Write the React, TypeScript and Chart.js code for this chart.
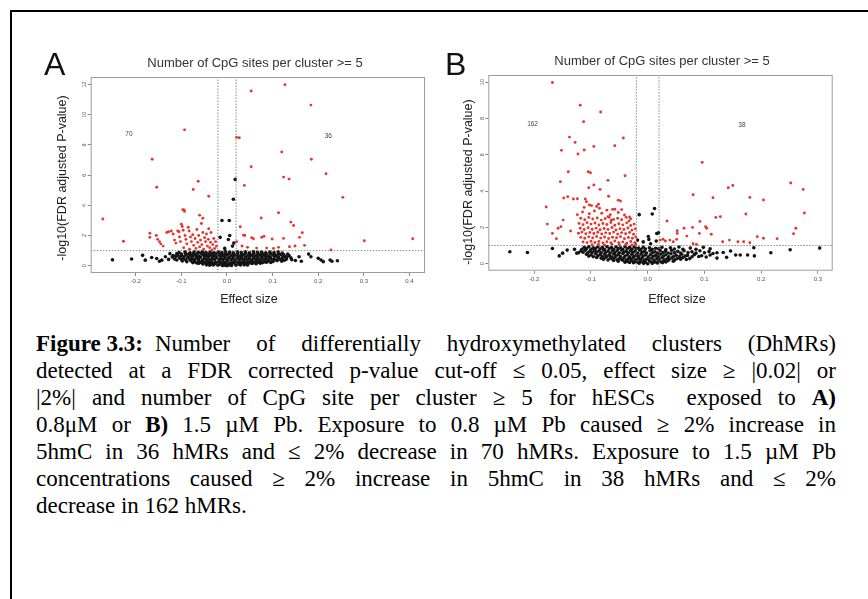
import React, { useEffect, useRef } from "react";
import { Chart, registerables } from "chart.js";

Chart.register(...registerables);

type P = [number, number];

// ---------- shared text ----------
const plotTitle = "Number of CpG sites per cluster >= 5";
const yAxisLabel = "-log10(FDR adjusted P-value)";
const xAxisLabel = "Effect size";
const effectCuts = [-0.02, 0.02];
const pCut = 1;

// ---------- panel A data ----------
const xTicksA = [-0.2, -0.1, 0, 0.1, 0.2, 0.3, 0.4];
const yTicksA = [0, 2, 4, 6, 8, 10, 12];
const countLabelsA = ["70", "36"];
const countPosA: P[] = [[-0.215, 8.7], [0.222, 8.6]];

const redA: P[] = [
  [-0.272, 3.1], [-0.227, 1.62], [-0.164, 7.05], [-0.154, 5.2], [-0.093, 9.0], [-0.063, 5.6], [-0.074, 5.05],
  [-0.04, 4.6], [-0.097, 3.72], [-0.094, 3.7], [-0.093, 3.6], [-0.06, 3.35], [-0.053, 3.15],
  [-0.169, 2.15], [-0.169, 1.88], [-0.155, 2.0], [-0.152, 1.75], [-0.148, 1.6], [-0.145, 1.45], [-0.14, 1.3],
  [-0.132, 2.2], [-0.128, 2.25], [-0.122, 2.3], [-0.118, 2.1], [-0.115, 1.7], [-0.112, 1.5], [-0.108, 2.3],
  [-0.105, 2.25], [-0.104, 1.9], [-0.102, 1.6], [-0.1, 2.75], [-0.098, 2.6], [-0.096, 2.35], [-0.095, 1.2],
  [-0.092, 2.0], [-0.09, 1.75], [-0.088, 1.45], [-0.085, 2.55], [-0.083, 2.3], [-0.082, 1.1], [-0.08, 1.9],
  [-0.078, 1.6], [-0.075, 2.05], [-0.073, 1.35], [-0.07, 1.8], [-0.068, 1.15], [-0.066, 2.4], [-0.064, 1.55],
  [-0.062, 2.0], [-0.06, 1.25], [-0.058, 1.7], [-0.056, 2.8], [-0.055, 1.4], [-0.053, 2.2], [-0.051, 1.1],
  [-0.049, 1.85], [-0.047, 1.6], [-0.045, 2.1], [-0.043, 1.3], [-0.041, 1.75], [-0.04, 2.45], [-0.038, 1.2],
  [-0.036, 1.55], [-0.035, 2.2], [-0.033, 1.05], [-0.031, 1.4], [-0.029, 1.8], [-0.027, 1.15], [-0.025, 1.6],
  [-0.023, 1.3],
  [0.053, 11.57], [0.127, 11.99], [0.184, 10.64], [0.021, 8.5], [0.027, 8.48], [0.12, 7.53], [0.185, 7.05],
  [0.053, 6.56], [0.217, 6.09], [0.124, 5.87], [0.136, 5.74], [0.038, 5.32], [0.254, 4.53], [0.113, 3.51],
  [0.075, 3.16], [0.14, 2.89], [0.146, 2.67], [0.165, 2.19], [0.029, 2.58], [0.301, 1.66], [0.407, 1.79],
  [0.228, 1.04], [0.159, 1.88],
  [0.036, 2.03], [0.039, 2.0], [0.054, 1.86], [0.058, 1.79], [0.076, 1.88], [0.081, 1.95], [0.099, 1.77],
  [0.124, 1.81], [0.137, 1.26], [0.149, 1.31], [0.17, 1.35], [0.021, 1.59], [0.033, 1.31], [0.045, 1.22],
  [0.065, 1.17], [0.087, 1.17], [0.102, 1.15], [0.113, 1.22],
];

const blackA: P[] = [
  [0.018, 5.72], [0.014, 4.4], [-0.011, 3.0], [0.005, 3.0], [-0.015, 1.88], [0.003, 1.74], [0.006, 2.0],
  [0.012, 1.3], [-0.005, 1.15], [0.015, 1.5],
  [-0.251, 0.39], [-0.209, 0.45], [-0.185, 0.69], [-0.179, 0.37], [-0.165, 0.55], [-0.154, 0.48], [-0.148, 0.3],
  [-0.143, 0.37], [-0.135, 0.6], [-0.128, 0.42], [-0.125, 0.8], [0.158, 0.6], [0.163, 0.3], [0.179, 0.77],
  [0.184, 0.6], [0.2, 0.49], [0.206, 0.38], [0.211, 0.27], [0.226, 0.38], [0.23, 0.3], [0.242, 0.33],
  [-0.105, 0.88], [-0.092, 0.92], [-0.081, 0.86], [-0.072, 0.93], [-0.063, 0.89], [-0.054, 0.94], [-0.046, 0.87],
  [-0.037, 0.91], [-0.028, 0.85], [-0.019, 0.93], [-0.011, 0.88], [-0.003, 0.95], [0.006, 0.9], [0.014, 0.86],
  [0.023, 0.93], [0.031, 0.88], [0.04, 0.92], [0.049, 0.86], [0.058, 0.94], [0.067, 0.89], [0.076, 0.91],
  [0.085, 0.85], [0.094, 0.9], [0.103, 0.87], [0.112, 0.92], [0.121, 0.84],
  [-0.11, 0.8], [-0.1, 0.78], [-0.091, 0.82], [-0.083, 0.79], [-0.074, 0.81], [-0.066, 0.77], [-0.057, 0.83],
  [-0.049, 0.8], [-0.04, 0.78], [-0.031, 0.82], [-0.022, 0.79], [-0.013, 0.81], [-0.004, 0.77], [0.005, 0.82],
  [0.014, 0.79], [0.023, 0.8], [0.032, 0.77], [0.041, 0.83], [0.05, 0.79], [0.059, 0.81], [0.068, 0.78],
  [0.077, 0.82], [0.086, 0.79], [0.095, 0.8], [0.104, 0.76], [0.113, 0.8], [0.124, 0.75], [0.133, 0.78],
  [-0.118, 0.68], [-0.108, 0.72], [-0.099, 0.66], [-0.089, 0.74], [-0.08, 0.69], [-0.071, 0.71], [-0.062, 0.65],
  [-0.053, 0.73], [-0.044, 0.68], [-0.035, 0.7], [-0.026, 0.66], [-0.017, 0.72], [-0.008, 0.69], [0.001, 0.74],
  [0.01, 0.67], [0.019, 0.71], [0.028, 0.65], [0.037, 0.73], [0.046, 0.68], [0.055, 0.7], [0.064, 0.66],
  [0.073, 0.72], [0.082, 0.69], [0.091, 0.64], [0.1, 0.71], [0.109, 0.67], [0.118, 0.73], [0.127, 0.62],
  [0.136, 0.68],
  [-0.12, 0.58], [-0.112, 0.62], [-0.103, 0.59], [-0.094, 0.61], [-0.085, 0.57], [-0.076, 0.62], [-0.067, 0.6],
  [-0.058, 0.58], [-0.049, 0.62], [-0.04, 0.59], [-0.031, 0.61], [-0.022, 0.57], [-0.013, 0.62], [-0.004, 0.6],
  [0.005, 0.58], [0.014, 0.62], [0.023, 0.59], [0.032, 0.61], [0.041, 0.57], [0.05, 0.62], [0.059, 0.6],
  [0.068, 0.58], [0.077, 0.62], [0.086, 0.59], [0.095, 0.56], [0.104, 0.61], [0.113, 0.58], [0.122, 0.55],
  [0.131, 0.57], [0.14, 0.52],
  [-0.115, 0.45], [-0.104, 0.52], [-0.095, 0.48], [-0.086, 0.54], [-0.077, 0.47], [-0.068, 0.5], [-0.059, 0.55],
  [-0.05, 0.46], [-0.041, 0.51], [-0.032, 0.48], [-0.023, 0.53], [-0.014, 0.47], [-0.005, 0.5], [0.004, 0.55],
  [0.013, 0.46], [0.022, 0.52], [0.031, 0.49], [0.04, 0.54], [0.049, 0.47], [0.058, 0.51], [0.067, 0.45],
  [0.076, 0.53], [0.085, 0.48], [0.094, 0.5], [0.103, 0.44], [0.112, 0.52], [0.121, 0.47], [0.13, 0.43],
  [0.142, 0.4], [0.15, 0.35],
  [-0.11, 0.38], [-0.1, 0.41], [-0.09, 0.37], [-0.081, 0.42], [-0.072, 0.39], [-0.063, 0.41], [-0.054, 0.37],
  [-0.045, 0.42], [-0.036, 0.39], [-0.027, 0.41], [-0.018, 0.37], [-0.009, 0.42], [0.0, 0.39], [0.009, 0.41],
  [0.018, 0.37], [0.027, 0.42], [0.036, 0.39], [0.045, 0.41], [0.054, 0.37], [0.063, 0.42], [0.072, 0.39],
  [0.081, 0.41], [0.09, 0.37], [0.099, 0.4], [0.108, 0.38], [0.117, 0.41], [0.126, 0.36],
  [-0.098, 0.31], [-0.088, 0.27], [-0.079, 0.33], [-0.07, 0.26], [-0.061, 0.3], [-0.052, 0.24], [-0.043, 0.32],
  [-0.034, 0.28], [-0.025, 0.22], [-0.016, 0.3], [-0.007, 0.25], [0.002, 0.31], [0.011, 0.23], [0.02, 0.29],
  [0.029, 0.26], [0.038, 0.32], [0.047, 0.25], [0.056, 0.3], [0.065, 0.27], [0.074, 0.33], [0.083, 0.26],
  [0.092, 0.31], [0.101, 0.28], [0.11, 0.34], [0.12, 0.3],
  [-0.075, 0.21], [-0.066, 0.18], [-0.057, 0.22], [-0.048, 0.19], [-0.039, 0.21], [-0.03, 0.17], [-0.021, 0.2],
  [-0.012, 0.18], [-0.003, 0.21], [0.006, 0.17], [0.015, 0.2], [0.024, 0.18], [0.033, 0.22], [0.042, 0.19],
  [0.051, 0.21], [0.06, 0.2], [0.069, 0.23], [0.078, 0.21], [0.087, 0.24], [0.096, 0.22],
  [-0.062, 0.16], [-0.053, 0.12], [-0.044, 0.14], [-0.035, 0.1], [-0.026, 0.13], [-0.017, 0.08], [-0.008, 0.11],
  [0.001, 0.06], [0.01, 0.1], [0.019, 0.12], [0.028, 0.09], [0.037, 0.14], [0.046, 0.11], [0.055, 0.15],
  [0.064, 0.13], [0.073, 0.17],
  [-0.045, 0.06], [-0.038, 0.04], [0.038, 0.06], [0.045, 0.05], [-0.005, 0.04], [0.005, 0.05],
  [-0.02, 0.03], [-0.01, 0.01], [0.0, 0.0], [0.01, 0.02], [0.02, 0.04], [-0.03, 0.05], [0.03, 0.05],
];

// ---------- panel B data ----------
const xTicksB = [-0.2, -0.1, 0, 0.1, 0.2, 0.3];
const yTicksB = [0, 2, 4, 6, 8, 10];
const countLabelsB = ["162", "38"];
const countPosB: P[] = [[-0.203, 7.7], [0.166, 7.6]];

const redB: P[] = [
  [-0.168, 9.98], [-0.119, 8.73], [-0.083, 8.35], [-0.113, 7.82], [-0.138, 6.97], [-0.043, 6.92], [-0.128, 6.68],
  [-0.095, 6.46], [-0.058, 6.5], [-0.152, 6.24], [-0.112, 6.26], [-0.123, 6.04], [-0.14, 5.06], [-0.105, 5.06],
  [-0.101, 5.01], [-0.04, 4.84], [-0.07, 4.59], [-0.154, 4.51], [-0.095, 4.33], [-0.104, 4.18], [-0.084, 4.09],
  [-0.141, 3.69], [-0.148, 3.62], [-0.131, 3.56], [-0.124, 3.58], [-0.11, 3.56], [-0.069, 3.71], [-0.052, 3.5],
  [-0.048, 3.45], [-0.179, 3.12], [-0.108, 3.41], [-0.103, 3.23], [-0.09, 3.15], [-0.087, 3.28], [-0.062, 2.99],
  [-0.032, 2.57], [-0.07, 2.59], [-0.064, 2.39], [-0.177, 2.18], [-0.149, 2.4], [-0.158, 1.95], [-0.153, 2.04],
  [-0.168, 1.67], [-0.161, 1.38], [-0.136, 1.8],
  [-0.115, 2.85], [-0.103, 2.75], [-0.094, 2.9], [-0.081, 2.78], [-0.066, 2.7], [-0.052, 2.82], [-0.041, 2.68],
  [-0.118, 2.5], [-0.111, 2.42], [-0.104, 2.55], [-0.097, 2.46], [-0.089, 2.52], [-0.082, 2.4], [-0.075, 2.48],
  [-0.068, 2.56], [-0.06, 2.44], [-0.053, 2.5], [-0.046, 2.42], [-0.038, 2.55], [-0.03, 2.47],
  [-0.121, 2.22], [-0.114, 2.15], [-0.107, 2.26], [-0.1, 2.18], [-0.093, 2.24], [-0.086, 2.13], [-0.079, 2.21],
  [-0.072, 2.16], [-0.065, 2.27], [-0.058, 2.12], [-0.051, 2.2], [-0.044, 2.14], [-0.037, 2.25], [-0.03, 2.1],
  [-0.024, 2.18],
  [-0.119, 1.95], [-0.112, 1.88], [-0.105, 1.98], [-0.098, 1.9], [-0.091, 1.96], [-0.084, 1.87], [-0.077, 1.94],
  [-0.07, 1.89], [-0.063, 1.99], [-0.056, 1.86], [-0.049, 1.93], [-0.042, 1.88], [-0.035, 1.97], [-0.028, 1.85],
  [-0.022, 1.92],
  [-0.122, 1.68], [-0.116, 1.74], [-0.109, 1.65], [-0.102, 1.72], [-0.095, 1.66], [-0.088, 1.73], [-0.081, 1.64],
  [-0.074, 1.7], [-0.067, 1.66], [-0.06, 1.74], [-0.053, 1.63], [-0.046, 1.71], [-0.039, 1.65], [-0.032, 1.72],
  [-0.025, 1.62],
  [-0.118, 1.45], [-0.111, 1.4], [-0.104, 1.48], [-0.097, 1.42], [-0.09, 1.5], [-0.083, 1.41], [-0.076, 1.47],
  [-0.069, 1.39], [-0.062, 1.46], [-0.055, 1.43], [-0.048, 1.49], [-0.041, 1.38], [-0.034, 1.44], [-0.027, 1.4],
  [-0.021, 1.47],
  [-0.114, 1.2], [-0.107, 1.16], [-0.1, 1.24], [-0.093, 1.17], [-0.086, 1.22], [-0.079, 1.14], [-0.072, 1.21],
  [-0.065, 1.16], [-0.058, 1.25], [-0.051, 1.15], [-0.044, 1.2], [-0.037, 1.13], [-0.03, 1.22], [-0.023, 1.16],
  [-0.098, 1.04], [-0.087, 1.06], [-0.076, 1.03], [-0.063, 1.07], [-0.05, 1.04], [-0.039, 1.05], [-0.028, 1.03],
  [-0.021, 1.06],
  [-0.112, 3.1], [-0.085, 3.05], [-0.072, 2.95], [-0.058, 3.0], [-0.033, 2.35], [-0.046, 2.98], [-0.124, 2.7],
  [-0.099, 3.2],
  [0.096, 5.58], [0.252, 4.44], [0.142, 4.18], [0.15, 4.31], [0.274, 4.09], [0.08, 3.8], [0.115, 3.63],
  [0.18, 3.65], [0.204, 3.51], [0.276, 2.79], [0.173, 2.74], [0.12, 2.55], [0.128, 2.59], [0.034, 2.35],
  [0.092, 2.33], [0.079, 2.0], [0.102, 2.04], [0.104, 1.95], [0.064, 1.95], [0.052, 1.82], [0.052, 1.67],
  [0.069, 1.52], [0.112, 1.62], [0.091, 1.67], [0.257, 1.65], [0.261, 1.95], [0.193, 1.49], [0.204, 1.4],
  [0.228, 1.38], [0.132, 1.21], [0.144, 1.3], [0.159, 1.21], [0.169, 1.21], [0.18, 1.15], [0.039, 1.3],
  [0.045, 1.21], [0.051, 1.34], [0.08, 1.1], [0.086, 1.06], [0.022, 1.3], [0.027, 1.35], [0.031, 1.25],
];

const blackB: P[] = [
  [-0.015, 2.7], [0.008, 2.74], [0.012, 3.04], [0.019, 1.7], [0.016, 1.66], [0.001, 1.5], [0.002, 1.33],
  [-0.018, 1.3], [-0.008, 1.2], [0.005, 1.1], [0.015, 1.25],
  [-0.243, 0.66], [-0.212, 0.62], [-0.168, 0.84], [-0.156, 0.43], [-0.15, 0.58], [-0.142, 0.75], [-0.129, 0.79],
  [-0.125, 0.58], [0.217, 0.6], [0.251, 0.77], [0.303, 0.86], [0.187, 0.88], [0.188, 0.43], [0.176, 0.48],
  [0.163, 0.48], [0.155, 0.48], [0.139, 0.35], [0.122, 0.31], [0.133, 0.62], [0.146, 0.7],
  [-0.112, 0.9], [-0.104, 0.94], [-0.096, 0.88], [-0.088, 0.93], [-0.08, 0.9], [-0.072, 0.95], [-0.064, 0.89],
  [-0.056, 0.93], [-0.048, 0.87], [-0.04, 0.94], [-0.032, 0.9], [-0.024, 0.92], [-0.016, 0.86], [-0.008, 0.9],
  [0.003, 0.88], [0.014, 0.85], [0.025, 0.9], [0.04, 0.88], [0.055, 0.92], [0.075, 0.86], [0.098, 0.9],
  [-0.116, 0.8], [-0.108, 0.83], [-0.1, 0.79], [-0.092, 0.84], [-0.084, 0.81], [-0.076, 0.78], [-0.068, 0.83],
  [-0.06, 0.8], [-0.052, 0.84], [-0.044, 0.79], [-0.036, 0.82], [-0.028, 0.8], [-0.02, 0.84], [-0.012, 0.78],
  [-0.004, 0.81], [0.008, 0.79], [0.019, 0.82], [0.032, 0.78], [0.047, 0.81], [0.062, 0.79], [0.085, 0.8],
  [0.11, 0.82],
  [-0.118, 0.7], [-0.11, 0.74], [-0.102, 0.68], [-0.094, 0.73], [-0.086, 0.7], [-0.078, 0.75], [-0.07, 0.69],
  [-0.062, 0.73], [-0.054, 0.71], [-0.046, 0.76], [-0.038, 0.68], [-0.03, 0.72], [-0.022, 0.7], [-0.014, 0.74],
  [-0.006, 0.67], [0.004, 0.71], [0.013, 0.66], [0.022, 0.73], [0.031, 0.69], [0.042, 0.74], [0.053, 0.68],
  [0.064, 0.72], [0.078, 0.66], [0.092, 0.71], [0.108, 0.67], [0.122, 0.6],
  [-0.122, 0.6], [-0.114, 0.63], [-0.106, 0.59], [-0.098, 0.62], [-0.09, 0.64], [-0.082, 0.6], [-0.074, 0.63],
  [-0.066, 0.59], [-0.058, 0.62], [-0.05, 0.6], [-0.042, 0.64], [-0.034, 0.6], [-0.026, 0.62], [-0.018, 0.58],
  [-0.01, 0.61], [-0.002, 0.59], [0.009, 0.62], [0.018, 0.58], [0.027, 0.61], [0.036, 0.59], [0.047, 0.62],
  [0.058, 0.58], [0.071, 0.61], [0.085, 0.58], [0.1, 0.6], [0.115, 0.56],
  [-0.108, 0.52], [-0.1, 0.48], [-0.092, 0.55], [-0.084, 0.5], [-0.076, 0.53], [-0.068, 0.47], [-0.06, 0.54],
  [-0.052, 0.5], [-0.044, 0.56], [-0.036, 0.49], [-0.028, 0.52], [-0.02, 0.47], [-0.012, 0.53], [-0.004, 0.48],
  [0.005, 0.51], [0.014, 0.46], [0.023, 0.53], [0.032, 0.49], [0.041, 0.55], [0.05, 0.47], [0.06, 0.52],
  [0.07, 0.45], [0.082, 0.5], [0.095, 0.44], [0.11, 0.48],
  [-0.104, 0.42], [-0.096, 0.39], [-0.088, 0.43], [-0.08, 0.4], [-0.072, 0.42], [-0.064, 0.38], [-0.056, 0.43],
  [-0.048, 0.4], [-0.04, 0.42], [-0.032, 0.38], [-0.024, 0.41], [-0.016, 0.39], [-0.008, 0.42], [0.001, 0.38],
  [0.01, 0.41], [0.019, 0.39], [0.028, 0.42], [0.037, 0.38], [0.046, 0.41], [0.056, 0.39], [0.066, 0.42],
  [0.078, 0.38], [0.09, 0.4], [0.103, 0.37],
  [-0.09, 0.34], [-0.082, 0.3], [-0.074, 0.36], [-0.066, 0.31], [-0.058, 0.35], [-0.05, 0.28], [-0.042, 0.33],
  [-0.034, 0.29], [-0.026, 0.34], [-0.018, 0.27], [-0.01, 0.32], [-0.002, 0.26], [0.007, 0.31], [0.016, 0.28],
  [0.025, 0.33], [0.034, 0.27], [0.043, 0.32], [0.052, 0.29], [0.062, 0.34], [0.074, 0.28],
  [-0.078, 0.24], [-0.07, 0.21], [-0.062, 0.25], [-0.054, 0.22], [-0.046, 0.24], [-0.038, 0.2], [-0.03, 0.23],
  [-0.022, 0.21], [-0.014, 0.24], [-0.006, 0.2], [0.002, 0.22], [0.011, 0.2], [0.02, 0.23], [0.029, 0.21],
  [0.038, 0.24], [0.048, 0.22], [0.058, 0.25], [0.068, 0.23],
  [-0.06, 0.18], [-0.052, 0.14], [-0.044, 0.19], [-0.036, 0.13], [-0.028, 0.16], [-0.02, 0.11], [-0.012, 0.15],
  [-0.004, 0.09], [0.004, 0.13], [0.012, 0.1], [0.02, 0.15], [0.028, 0.12], [0.036, 0.17], [0.045, 0.14],
  [-0.04, 0.08], [-0.032, 0.07], [-0.024, 0.09], [-0.016, 0.07], [-0.008, 0.06], [0.008, 0.07], [0.016, 0.08],
  [0.024, 0.09], [0.032, 0.1],
  [-0.025, 0.05], [-0.015, 0.03], [-0.007, 0.02], [0.0, 0.0], [0.008, 0.02], [0.017, 0.04], [0.026, 0.06],
];

// ---------- caption ----------
const captionLines: React.ReactNode[] = [
  <>
    <b style={{ display: "inline-block", marginRight: 12 }}>Figure 3.3:</b>
    Number of differentially hydroxymethylated clusters (DhMRs)
  </>,
  <>detected at a FDR corrected p-value cut-off ≤ 0.05, effect size ≥ |0.02| or</>,
  <>|2%| and number of CpG site per cluster ≥ 5 for hESCs {"\u00a0"}exposed to <b>A)</b></>,
  <>0.8μM or <b>B)</b> 1.5 µM Pb. Exposure to 0.8 µM Pb caused ≥ 2% increase in</>,
  <>5hmC in 36 hMRs and ≤ 2% decrease in 70 hMRs. Exposure to 1.5 µM Pb</>,
  <>concentrations caused ≥ 2% increase in 5hmC in 38 hMRs and ≤ 2%</>,
  <>decrease in 162 hMRs.</>,
];

// ---------- layout ----------
interface Panel {
  letter: string;
  red: P[];
  black: P[];
  xTicks: number[];
  yTicks: number[];
  xRange: [number, number];
  yRange: [number, number];
  counts: string[];
  countPos: P[];
  canvas: { left: number; top: number; width: number; height: number };
  area: { left: number; top: number; right: number; bottom: number };
  titleAt: [number, number];
  letterAt: [number, number];
  yLabAt: [number, number];
  xLabAt: [number, number];
}

const panels: Panel[] = [
  {
    letter: "A",
    red: redA,
    black: blackA,
    xTicks: xTicksA,
    yTicks: yTicksA,
    xRange: [-0.2987, 0.434],
    yRange: [-0.48, 12.5],
    counts: countLabelsA,
    countPos: countPosA,
    canvas: { left: 20, top: 30, width: 420, height: 290 },
    area: { left: 90.7, top: 77, right: 425, bottom: 273 },
    titleAt: [255, 63],
    letterAt: [44, 75],
    yLabAt: [63, 178],
    xLabAt: [249, 300],
  },
  {
    letter: "B",
    red: redB,
    black: blackB,
    xTicks: xTicksB,
    yTicks: yTicksB,
    xRange: [-0.281, 0.326],
    yRange: [-0.385, 10.39],
    counts: countLabelsB,
    countPos: countPosB,
    canvas: { left: 440, top: 30, width: 420, height: 290 },
    area: { left: 488.3, top: 75, right: 832.7, bottom: 270.7 },
    titleAt: [662, 61],
    letterAt: [445, 75],
    yLabAt: [469, 182],
    xLabAt: [677, 300],
  },
];

const SANS = '"Liberation Sans", Arial, sans-serif';

function makeChart(canvas: HTMLCanvasElement, p: Panel): Chart {
  const c = p.canvas;
  const padTop = p.area.top - c.top;
  const padRight = c.left + c.width - p.area.right;
  const yAxisW = p.area.left - c.left;
  const xAxisH = c.top + c.height - p.area.bottom;
  const [xmin, xmax] = p.xRange;
  const [ymin, ymax] = p.yRange;
  const dotted = {
    type: "line" as const,
    borderColor: "#6b6b6b",
    borderWidth: 0.8,
    borderDash: [1.5, 1.5],
    pointRadius: 0,
    fill: false,
    order: 0,
  };

  const annot = {
    id: "annot" + p.letter,
    afterDraw(chart: Chart) {
      const ctx = chart.ctx;
      const ca = chart.chartArea;
      const ox = c.left;
      const oy = c.top;
      ctx.save();
      ctx.strokeStyle = "#9c9c9c";
      ctx.lineWidth = 1;
      ctx.strokeRect(ca.left + 0.5, ca.top + 0.5, ca.right - ca.left - 1, ca.bottom - ca.top - 1);

      ctx.fillStyle = "#333";
      ctx.font = `13px ${SANS}`;
      ctx.textAlign = "center";
      ctx.textBaseline = "middle";
      ctx.fillText(plotTitle, p.titleAt[0] - ox, p.titleAt[1] - oy);

      ctx.fillStyle = "#222";
      ctx.font = `12.5px ${SANS}`;
      ctx.fillText(xAxisLabel, p.xLabAt[0] - ox, p.xLabAt[1] - oy);
      ctx.save();
      ctx.translate(p.yLabAt[0] - ox, p.yLabAt[1] - oy);
      ctx.rotate(-Math.PI / 2);
      ctx.fillText(yAxisLabel, 0, 0);
      ctx.restore();

      ctx.fillStyle = "#111";
      ctx.font = `32px ${SANS}`;
      ctx.textAlign = "left";
      ctx.textBaseline = "alphabetic";
      ctx.fillText(p.letter, p.letterAt[0] - ox, p.letterAt[1] - oy);

      ctx.fillStyle = "#444";
      ctx.font = `6.5px ${SANS}`;
      ctx.textAlign = "center";
      ctx.textBaseline = "middle";
      const xs = chart.scales.x;
      const ys = chart.scales.y;
      p.counts.forEach((t, i) => {
        ctx.fillText(t, xs.getPixelForValue(p.countPos[i][0]), ys.getPixelForValue(p.countPos[i][1]));
      });
      ctx.restore();
    },
  };

  return new Chart(canvas, {
    type: "scatter",
    data: {
      datasets: [
        { ...dotted, data: [{ x: effectCuts[0], y: ymin }, { x: effectCuts[0], y: ymax }] },
        { ...dotted, data: [{ x: effectCuts[1], y: ymin }, { x: effectCuts[1], y: ymax }] },
        { ...dotted, data: [{ x: xmin, y: pCut }, { x: xmax, y: pCut }] },
        {
          data: p.red.map(([x, y]) => ({ x, y })),
          backgroundColor: "#e2372f",
          borderWidth: 0,
          pointRadius: 1.45,
          order: 1,
        },
        {
          data: p.black.map(([x, y]) => ({ x, y })),
          backgroundColor: "#141414",
          borderWidth: 0,
          pointRadius: 1.8,
          order: 2,
        },
      ] as any,
    },
    options: {
      animation: false,
      responsive: false,
      maintainAspectRatio: false,
      events: [],
      layout: { padding: { top: padTop, right: padRight, left: 0, bottom: 0 } },
      plugins: { legend: { display: false }, tooltip: { enabled: false }, title: { display: false } },
      scales: {
        x: {
          type: "linear",
          min: xmin,
          max: xmax,
          afterBuildTicks: (s: any) => {
            s.ticks = p.xTicks.map((v) => ({ value: v }));
          },
          afterFit: (s: any) => {
            s.height = xAxisH;
          },
          ticks: {
            autoSkip: false,
            maxRotation: 0,
            minRotation: 0,
            padding: 2,
            color: "#555",
            font: { size: 6, family: SANS },
            callback: (v: any) => Number(v).toFixed(1),
          },
          grid: { drawOnChartArea: false, drawTicks: true, tickLength: 3, color: "#8a8a8a" },
          border: { display: false },
        },
        y: {
          type: "linear",
          min: ymin,
          max: ymax,
          afterBuildTicks: (s: any) => {
            s.ticks = p.yTicks.map((v) => ({ value: v }));
          },
          afterFit: (s: any) => {
            s.width = yAxisW;
          },
          ticks: {
            autoSkip: false,
            minRotation: 90,
            maxRotation: 90,
            crossAlign: "center",
            padding: 0,
            color: "#555",
            font: { size: 5.5, family: SANS },
            callback: (v: any) => String(v),
          },
          grid: { drawOnChartArea: false, drawTicks: true, tickLength: 3, color: "#8a8a8a" },
          border: { display: false },
        },
      },
    },
    plugins: [annot],
  } as any);
}

function PanelChart({ panel }: { panel: Panel }) {
  const ref = useRef<HTMLCanvasElement | null>(null);
  useEffect(() => {
    if (!ref.current) return;
    const chart = makeChart(ref.current, panel);
    return () => chart.destroy();
  }, [panel]);
  const c = panel.canvas;
  return (
    <canvas
      ref={ref}
      width={c.width}
      height={c.height}
      style={{ position: "absolute", left: c.left, top: c.top, width: c.width, height: c.height }}
    />
  );
}

export default function App() {
  return (
    <div
      style={{
        position: "fixed",
        left: 0,
        top: 0,
        width: 868,
        height: 599,
        background: "#fff",
        overflow: "hidden",
      }}
    >
      <div
        style={{
          position: "absolute",
          left: 10,
          top: 10,
          width: 900,
          height: 700,
          borderTop: "2px solid #000",
          borderLeft: "2px solid #000",
        }}
      />
      {panels.map((p) => (
        <PanelChart key={p.letter} panel={p} />
      ))}
      <div
        style={{
          position: "absolute",
          left: 36,
          top: 330,
          width: 800,
          fontFamily: '"Liberation Serif", "Times New Roman", serif',
          fontSize: 23,
          color: "#000",
        }}
      >
        {captionLines.map((ln, i) => (
          <div
            key={i}
            style={{
              height: 27,
              lineHeight: "27px",
              whiteSpace: "nowrap",
              textAlign: i === captionLines.length - 1 ? "left" : "justify",
              textAlignLast: i === captionLines.length - 1 ? "left" : "justify",
            }}
          >
            {ln}
          </div>
        ))}
      </div>
    </div>
  );
}
